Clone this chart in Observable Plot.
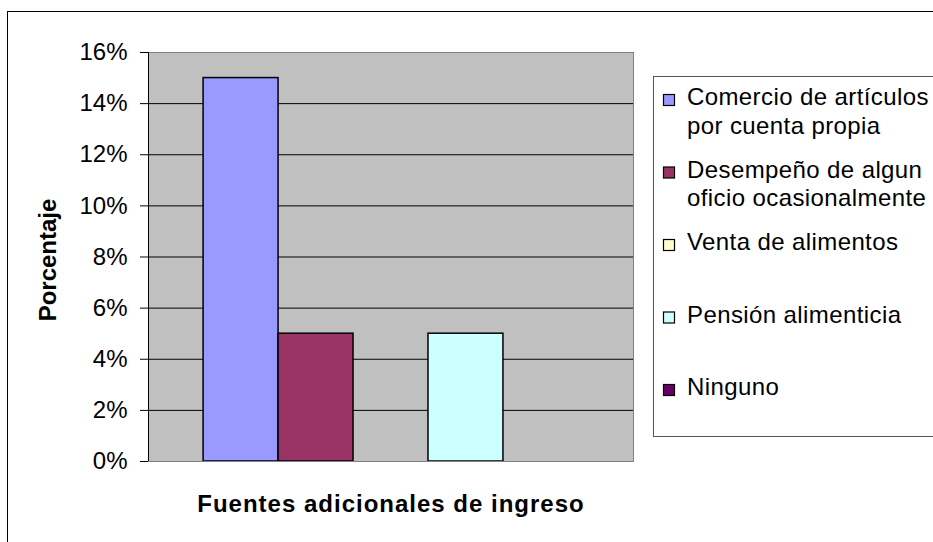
<!DOCTYPE html>
<html>
<head>
<meta charset="utf-8">
<script src="https://cdn.jsdelivr.net/npm/d3@7"></script>
<script src="https://cdn.jsdelivr.net/npm/@observablehq/plot@0.6"></script>
<style>
html, body { margin: 0; padding: 0; background: #fff; overflow: hidden; }
#wrap { position: relative; width: 933px; height: 542px; overflow: hidden; font-family: "Liberation Sans", Arial, sans-serif; }
#wrap > svg { position: absolute; left: 0; top: 0; }
</style>
</head>
<body>
<div id="wrap"></div>
<script>
// ---- data ----
const categories = [
  "Comercio de artículos por cuenta propia",
  "Desempeño de algun oficio ocasionalmente",
  "Venta de alimentos",
  "Pensión alimenticia",
  "Ninguno"
];
const values = [0.15, 0.05, 0, 0.05, 0];
const colors = ["#9999FF", "#993366", "#FFFFCC", "#CCFFFF", "#660066"];
const legendLines = [
  ["Comercio de artículos", "por cuenta propia"],
  ["Desempeño de algun", "oficio ocasionalmente"],
  ["Venta de alimentos"],
  ["Pensión alimenticia"],
  ["Ninguno"]
];
const yTicks = [0, 0.02, 0.04, 0.06, 0.08, 0.10, 0.12, 0.14, 0.16];
const yTitle = "Porcentaje";
const xTitle = "Fuentes adicionales de ingreso";

// ---- build ----
const data = categories.map((c, i) => ({cat: c, val: values[i]}));
const shown = data.filter(d => d.val > 0);
const gridTicks = yTicks.filter(t => t > 0 && t < 0.16);
const fmt = d3.format(".0%");
const FONT = "'Liberation Sans', Arial, sans-serif";

const yAxisLine = (index, scales, values, dims) => {
  const x = dims.marginLeft + 0.5;
  return d3.create("svg:line")
    .attr("x1", x).attr("x2", x)
    .attr("y1", scales.y(0.16)).attr("y2", scales.y(0))
    .attr("stroke", "#000").node();
};

const chart = Plot.plot({
  width: 933,
  height: 542,
  marginLeft: 148,
  marginRight: 300,
  marginTop: 52,
  marginBottom: 81,
  style: {fontFamily: FONT, fontSize: "24px", background: "transparent", color: "#000"},
  x: {type: "band", domain: categories, paddingInner: 0, paddingOuter: 0.735, round: false, axis: null},
  y: {domain: [0, 0.16], label: null, axis: null},
  color: {domain: categories, range: colors},
  marks: [
    Plot.frame({fill: "#C0C0C0"}),
    Plot.gridY(gridTicks, {stroke: "#000", strokeOpacity: 1}),
    Plot.barY(shown, {x: "cat", y: "val", fill: "cat", stroke: "#000", strokeWidth: 1.5, inset: 0}),
    Plot.frame({stroke: "#808080"}),
    yAxisLine,
    Plot.axisY(yTicks, {tickSize: 8, tickPadding: 13, tickFormat: fmt, fontSize: 24, label: null}),
    Plot.text([yTitle], {frameAnchor: "left", textAnchor: "middle", rotate: -90, dx: -100, dy: 3, fontWeight: "bold", fontSize: 24}),
    Plot.text([xTitle], {frameAnchor: "bottom", dy: 50, fontWeight: "bold", fontSize: 24})
  ]
});

const wrap = document.getElementById("wrap");
wrap.appendChild(chart);

// letter spacing on x title to match reference width
d3.select(chart).selectAll("text").filter(function() { return this.textContent === xTitle; })
  .attr("letter-spacing", "1");

// ---- overlay: outer border + legend ----
const ov = d3.select(wrap).append("svg")
  .attr("width", 933).attr("height", 542)
  .style("pointer-events", "none")
  .style("font-family", FONT);

ov.append("line").attr("x1", 7.5).attr("x2", 7.5).attr("y1", 11).attr("y2", 542).attr("stroke", "#000");
ov.append("line").attr("x1", 7).attr("x2", 933).attr("y1", 11.5).attr("y2", 11.5).attr("stroke", "#000");

ov.append("rect")
  .attr("x", 653.5).attr("y", 76.5).attr("width", 400).attr("height", 360)
  .attr("fill", "#fff").attr("stroke", "#555");

const legY0 = 105, legStep = 72.5, lineH = 28.5;
legendLines.forEach((lines, i) => {
  const base = legY0 + i * legStep;
  ov.append("rect")
    .attr("x", 663.5).attr("y", base - 10.5).attr("width", 11).attr("height", 11)
    .attr("fill", colors[i]).attr("stroke", "#000").attr("stroke-width", 1.2);
  lines.forEach((ln, j) => {
    ov.append("text")
      .attr("x", 687).attr("y", base + j * lineH)
      .attr("font-size", 24).attr("letter-spacing", "0.4").attr("fill", "#000")
      .text(ln);
  });
});
</script>
</body>
</html>
